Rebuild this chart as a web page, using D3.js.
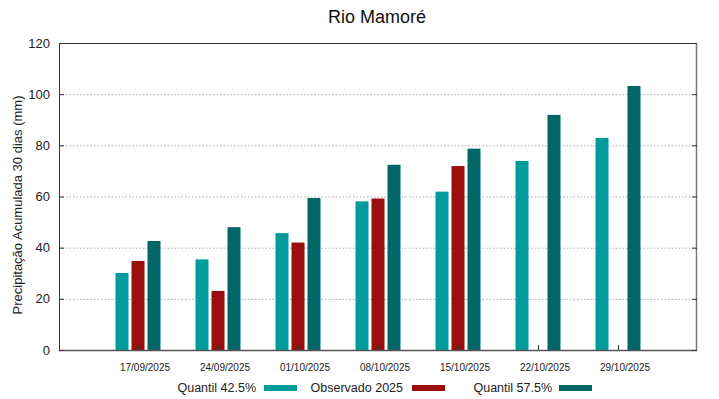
<!DOCTYPE html>
<html><head><meta charset="utf-8">
<script src="https://cdn.jsdelivr.net/npm/d3@7"></script>
<style>body{margin:0;background:#fff;font-family:"Liberation Sans",Arial,sans-serif;}</style>
</head><body>
<svg id="c" width="719" height="399"></svg>
<script>
const categories = ["17/09/2025","24/09/2025","01/10/2025","08/10/2025","15/10/2025","22/10/2025","29/10/2025"];
const quantil425 = [30.1, 35.4, 45.7, 58.1, 61.9, 73.9, 82.9];
const observado2025 = [34.8, 23.1, 42.0, 59.2, 71.9, null, null];
const quantil575 = [42.6, 48.0, 59.4, 72.4, 78.7, 91.9, 103.2];
const yTicks = [0, 20, 40, 60, 80, 100, 120];
const seriesNames = ["Quantil 42.5%", "Observado 2025", "Quantil 57.5%"];
const colors = ["#009b9b", "#9a0e0e", "#006666"];

const svg = d3.select("#c");
const L = 59, R = 697, T = 43, B = 350;
const x = d3.scalePoint().domain(categories).range([L, R]).padding(0.9875);
const y = d3.scaleLinear().domain([0, 120]).range([B, T]);
const barW = 13, off = 16;

// grid
svg.append("g").selectAll("line").data(yTicks.slice(1, -1)).join("line")
  .attr("x1", L).attr("x2", R).attr("y1", d => y(d) + 0.5).attr("y2", d => y(d) + 0.5)
  .attr("stroke", "#aaa").attr("stroke-width", 1).attr("stroke-dasharray", "1.5,2");

// bars
const series = [quantil425, observado2025, quantil575];
series.forEach((vals, si) => {
  svg.append("g").selectAll("rect").data(vals.map((v, i) => ({v, c: categories[i]})).filter(d => d.v != null)).join("rect")
    .attr("x", d => x(d.c) + (si - 1) * off - barW / 2)
    .attr("y", d => y(d.v))
    .attr("width", barW)
    .attr("height", d => y(0) - y(d.v))
    .attr("fill", colors[si]);
});

// frame
svg.append("rect").attr("x", L + 0.5).attr("y", T + 0.5).attr("width", R - L - 1).attr("height", B - T)
  .attr("fill", "none").attr("stroke", "#333").attr("stroke-width", 1);
svg.append("line").attr("x1", L).attr("x2", R).attr("y1", B + 0.5).attr("y2", B + 0.5).attr("stroke", "#555").attr("stroke-width", 1.5);
svg.append("line").attr("x1", R - 0.5).attr("x2", R - 0.5).attr("y1", T).attr("y2", B).attr("stroke", "#777").attr("stroke-width", 1.5);

// y axis ticks & labels
const ya = svg.append("g");
yTicks.forEach(t => {
  ya.append("line").attr("x1", L).attr("x2", L + 5).attr("y1", y(t) + 0.5).attr("y2", y(t) + 0.5).attr("stroke", "#333");
  ya.append("line").attr("x1", R - 5).attr("x2", R).attr("y1", y(t) + 0.5).attr("y2", y(t) + 0.5).attr("stroke", "#333");
  ya.append("text").attr("x", 50).attr("y", y(t) + 4.5).attr("text-anchor", "end")
    .attr("font-size", 13).attr("fill", "#222").text(t);
});

// x ticks & labels
const xa = svg.append("g");
categories.forEach(c => {
  xa.append("line").attr("x1", x(c) + 0.5).attr("x2", x(c) + 0.5).attr("y1", B).attr("y2", B - 5).attr("stroke", "#333");
  xa.append("text").attr("x", x(c) + 7).attr("y", 371).attr("text-anchor", "middle")
    .attr("font-size", 10).attr("fill", "#222").text(c);
});

// title
svg.append("text").attr("x", 377).attr("y", 23).attr("text-anchor", "middle").attr("font-size", 18).attr("fill", "#111").text("Rio Mamoré");

// y label
svg.append("text").attr("transform", "translate(22,205) rotate(-90)")
  .attr("text-anchor", "middle").attr("font-size", 13).attr("fill", "#222").text("Precipitação Acumulada 30 dias (mm)");

// legend
const legText = [256, 403, 552];
const legSw = [264, 412, 559];
seriesNames.forEach((n, i) => {
  svg.append("text").attr("x", legText[i]).attr("y", 392).attr("text-anchor", "end").attr("font-size", 12.5).attr("fill", "#222").text(n);
  svg.append("rect").attr("x", legSw[i]).attr("y", 385).attr("width", 33).attr("height", 6).attr("fill", colors[i]);
});
</script>
</body></html>
